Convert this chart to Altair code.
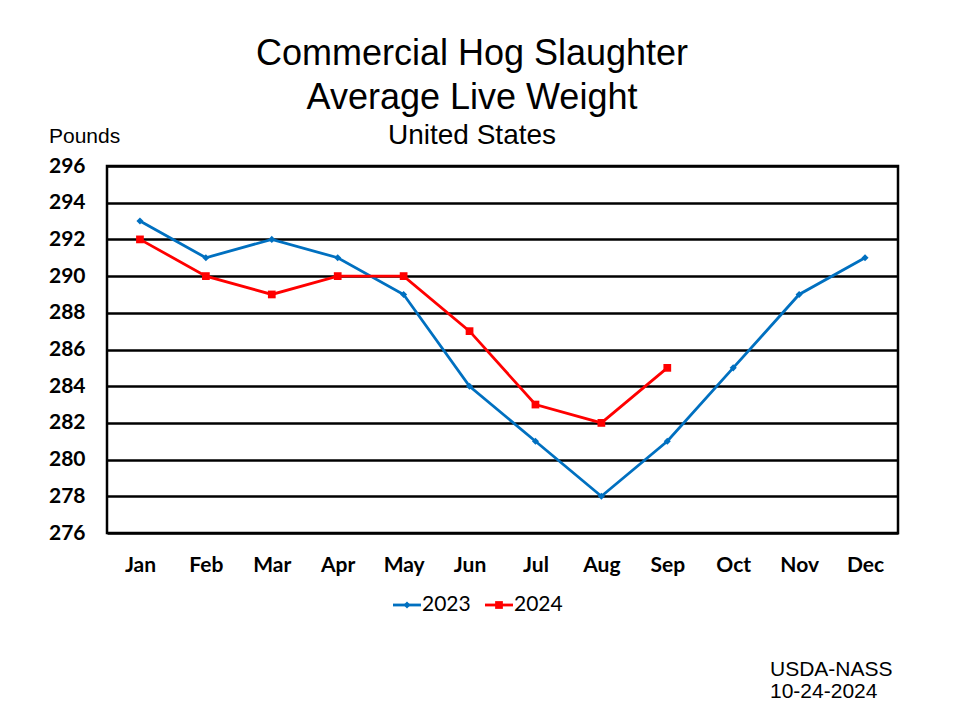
import altair as alt
import pandas as pd

months = ["Jan", "Feb", "Mar", "Apr", "May", "Jun", "Jul", "Aug", "Sep", "Oct", "Nov", "Dec"]
w2023 = [293, 291, 292, 291, 289, 284, 281, 278, 281, 285, 289, 291]
w2024 = [292, 290, 289, 290, 290, 287, 283, 282, 285]
y_ticks = [276, 278, 280, 282, 284, 286, 288, 290, 292, 294, 296]

df23 = pd.DataFrame({"Month": months, "Weight": w2023})
df24 = pd.DataFrame({"Month": months[:len(w2024)], "Weight": w2024})

BLUE = "#0070C0"
RED = "#FF0000"
W, H = 791, 367

x_enc = alt.X("Month:N", sort=months, scale=alt.Scale(type="point", padding=0.5, domain=months),
              axis=alt.Axis(title=None, labelAngle=0, labelFont="Lato", labelFontWeight="bold",
                            labelFontSize=21, labelColor="black", labelPadding=21, ticks=False,
                            domain=False, grid=False, labelOverlap=False))
y_enc = alt.Y("Weight:Q", scale=alt.Scale(domain=[276, 296], nice=False, zero=False),
              axis=alt.Axis(title=None, values=y_ticks, labelFont="Lato", labelFontWeight="bold",
                            labelFontSize=21, labelColor="black", labelPadding=22, ticks=False,
                            domain=False, grid=True, gridColor="black", gridWidth=2.5, gridOpacity=1,
                            labelOverlap=False, labelBound=False, labelFlush=False))

line23 = alt.Chart(df23).mark_line(color=BLUE, strokeWidth=2.8).encode(x=x_enc, y=y_enc)
pts23 = alt.Chart(df23).mark_point(shape="diamond", filled=True, color=BLUE, size=50, opacity=1).encode(x=x_enc, y=y_enc)
line24 = alt.Chart(df24).mark_line(color=RED, strokeWidth=2.8).encode(x=x_enc, y=y_enc)
pts24 = alt.Chart(df24).mark_point(shape="square", filled=True, color=RED, size=60, opacity=1).encode(x=x_enc, y=y_enc)


def txt(s, x, y, size, align="center", font="Liberation Sans", weight="normal", baseline="middle"):
    return alt.Chart(pd.DataFrame({"t": [s]})).mark_text(
        font=font, fontSize=size, fontWeight=weight, align=align, baseline=baseline, color="black"
    ).encode(x=alt.value(x), y=alt.value(y), text="t:N")


# offsets relative to plot origin (page 107,166)
OX, OY = 107, 166
title1 = txt("Commercial Hog Slaughter", 472 - OX, 54 - OY, 36)
title2 = txt("Average Live Weight", 472 - OX, 98 - OY, 36)
title3 = txt("United States", 472 - OX, 136 - OY, 28)
pounds = txt("Pounds", 49 - OX, 137 - OY, 21, align="left")
src1 = txt("USDA-NASS", 770 - OX, 670 - OY, 21, align="left")
src2 = txt("10-24-2024", 770 - OX, 692 - OY, 21, align="left")

# manual legend
LY = 605 - OY
leg_line23 = alt.Chart(pd.DataFrame({"a": [0]})).mark_rule(color=BLUE, strokeWidth=2.8).encode(
    x=alt.value(393 - OX), x2=alt.value(421 - OX), y=alt.value(LY))
leg_pt23 = alt.Chart(pd.DataFrame({"a": [0]})).mark_point(shape="diamond", filled=True, color=BLUE, size=50, opacity=1).encode(
    x=alt.value(407 - OX), y=alt.value(LY))
leg_txt23 = txt("2023", 422 - OX, LY, 21, align="left", font="Lato")
leg_line24 = alt.Chart(pd.DataFrame({"a": [0]})).mark_rule(color=RED, strokeWidth=2.8).encode(
    x=alt.value(485 - OX), x2=alt.value(513 - OX), y=alt.value(LY))
leg_pt24 = alt.Chart(pd.DataFrame({"a": [0]})).mark_point(shape="square", filled=True, color=RED, size=60, opacity=1).encode(
    x=alt.value(499 - OX), y=alt.value(LY))
leg_txt24 = txt("2024", 514 - OX, LY, 21, align="left", font="Lato")

chart = alt.layer(
    line23, line24, pts23, pts24,
    title1, title2, title3, pounds, src1, src2,
    leg_line23, leg_pt23, leg_txt23, leg_line24, leg_pt24, leg_txt24,
).properties(
    width=W, height=H,
    autosize=alt.AutoSizeParams(type="none"),
    padding={"left": OX - 8, "top": OY - 8, "right": 960 - 8 - (OX - 8) - W - 10, "bottom": 720 - 8 - (OY - 8) - H - 10},
    background="white",
).configure_view(stroke="black", strokeWidth=2.5)

chart.save("out.html", embed_options={"renderer": "svg", "actions": False})
